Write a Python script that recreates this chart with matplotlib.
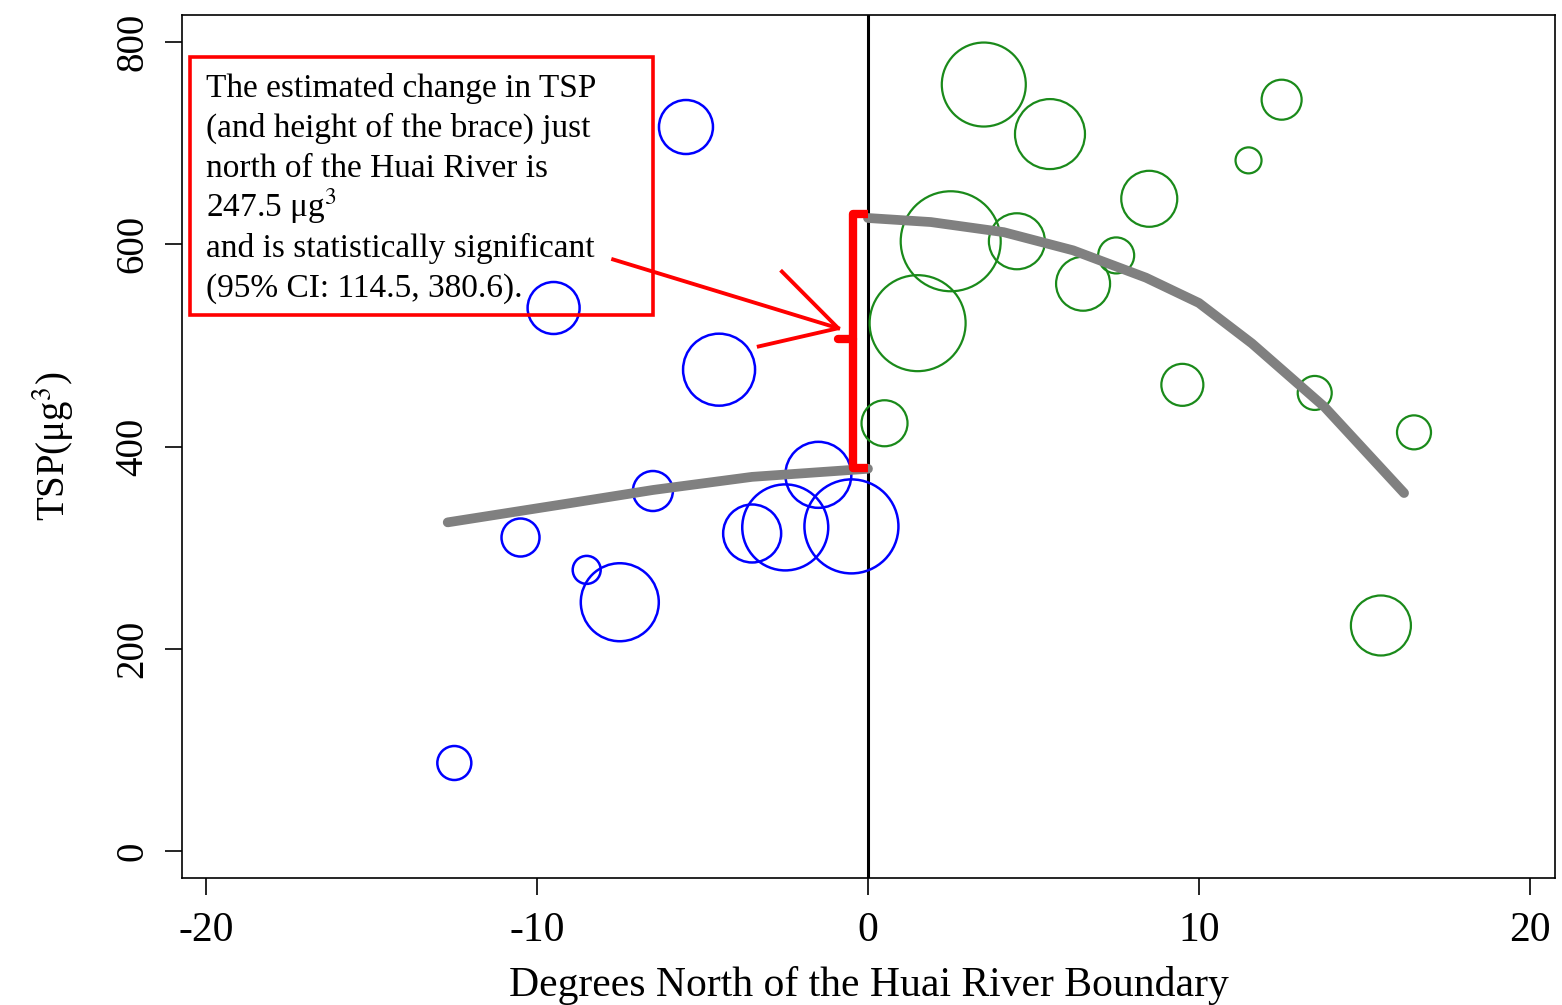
import matplotlib
matplotlib.use("Agg")
from matplotlib import pyplot as plt
from matplotlib.patches import Rectangle

# cities south of the Huai River (blue) and north of it (green)
south_x = [-12.5, -10.5, -9.5, -8.5, -7.5, -6.5, -5.5, -4.5, -3.5, -2.5, -1.5, -0.5]
south_y = [87, 310, 537, 278, 246, 356, 716, 476, 314, 320, 372, 321]
south_w = [17, 19, 26, 14, 39, 20, 27, 36, 29, 43, 33, 47]

north_x = [0.5, 1.5, 2.5, 3.5, 4.5, 5.5, 6.5, 7.5, 8.5, 9.5, 11.5, 12.5, 13.5, 15.5, 16.5]
north_y = [423, 522, 603, 758, 603, 709, 561, 589, 645, 461, 683, 743, 453, 223, 414]
north_w = [23, 48, 50, 42, 28, 35, 27, 18, 28, 21, 13, 20, 17, 30, 17]

# fitted curves on each side of the boundary
south_fit_x = [-12.7, -9.0, -6.5, -3.5, 0]
south_fit_y = [325, 344, 357, 370, 378]
north_fit_x = [0, 1.9, 4.1, 6.2, 8.4, 10.0, 11.6, 13.8, 16.2]
north_fit_y = [626, 622, 612, 594, 567, 542, 502, 439, 354]

brace_lo, brace_hi = 379, 630
note_lines = ["The estimated change in TSP",
              "(and height of the brace) just",
              "north of the Huai River is",
              "247.5 μg$^3$",
              "and is statistically significant",
              "(95% CI: 114.5, 380.6)."]

plt.rcParams['font.family'] = ['Liberation Serif', 'DejaVu Serif']
plt.rcParams['mathtext.fontset'] = 'stix'
plt.rcParams['axes.unicode_minus'] = False

fig = plt.figure(figsize=(15.62, 10.05), dpi=100)
ax = fig.add_axes([0.1165, 0.1264, 0.879, 0.8586])


def size(w):
    return [(1.44 * r) ** 2 for r in w]


ax.axvline(0, color='black', lw=2.2, zorder=1)
ax.scatter(south_x, south_y, s=size(south_w), facecolors='none', edgecolors='#0000ff', linewidths=1.8, zorder=2)
ax.scatter(north_x, north_y, s=size(north_w), facecolors='none', edgecolors='#1a8a1a', linewidths=1.6, zorder=2)
ax.plot(south_fit_x, south_fit_y, color='#808080', lw=7, solid_capstyle='round', zorder=3)
ax.plot(north_fit_x, north_fit_y, color='#808080', lw=7, solid_capstyle='round',
        solid_joinstyle='round', zorder=3)

# the brace
bx = -0.45
ax.plot([0, bx, bx, 0], [brace_hi, brace_hi, brace_lo, brace_lo], color='red', lw=6,
        solid_joinstyle='round', solid_capstyle='butt', zorder=4)
mid = (brace_lo + brace_hi) / 2 + 2
ax.plot([bx, -0.9], [mid, mid], color='red', lw=6, solid_capstyle='round', zorder=4)

# arrow from the note to the brace
tip = (-0.9, 517)
ax.plot([-7.7, tip[0]], [585, tip[1]], color='red', lw=2.8, zorder=4)
ax.plot([-2.6, tip[0], -3.3], [573, tip[1], 499], color='red', lw=2.8, zorder=4)

ax.add_patch(Rectangle((-20.48, 530), 13.99, 255, fill=False, edgecolor='red', lw=2.6, zorder=5))
for i, line in enumerate(note_lines):
    ax.text(-20.0, 746 - 39.6 * i, line, fontsize=24, va='baseline', ha='left', zorder=6)

ax.set_xlim(-20.73, 20.76)
ax.set_ylim(-26.7, 826.7)
ax.set_xticks([-20, -10, 0, 10, 20])
ax.set_yticks([0, 200, 400, 600, 800])
ax.tick_params(axis='x', labelsize=30, length=12, width=1.2, pad=12)
ax.tick_params(axis='y', labelsize=28, length=12, width=1.2, pad=10)
for lab in ax.get_yticklabels():
    lab.set_rotation(90)
    lab.set_va('center')
for sp in ax.spines.values():
    sp.set_linewidth(1.2)

ax.set_xlabel('Degrees North of the Huai River Boundary', fontsize=30, labelpad=12)
ax.set_ylabel('TSP(μg$^3$)', fontsize=28, labelpad=28)

fig.savefig('out.png', dpi=100)
